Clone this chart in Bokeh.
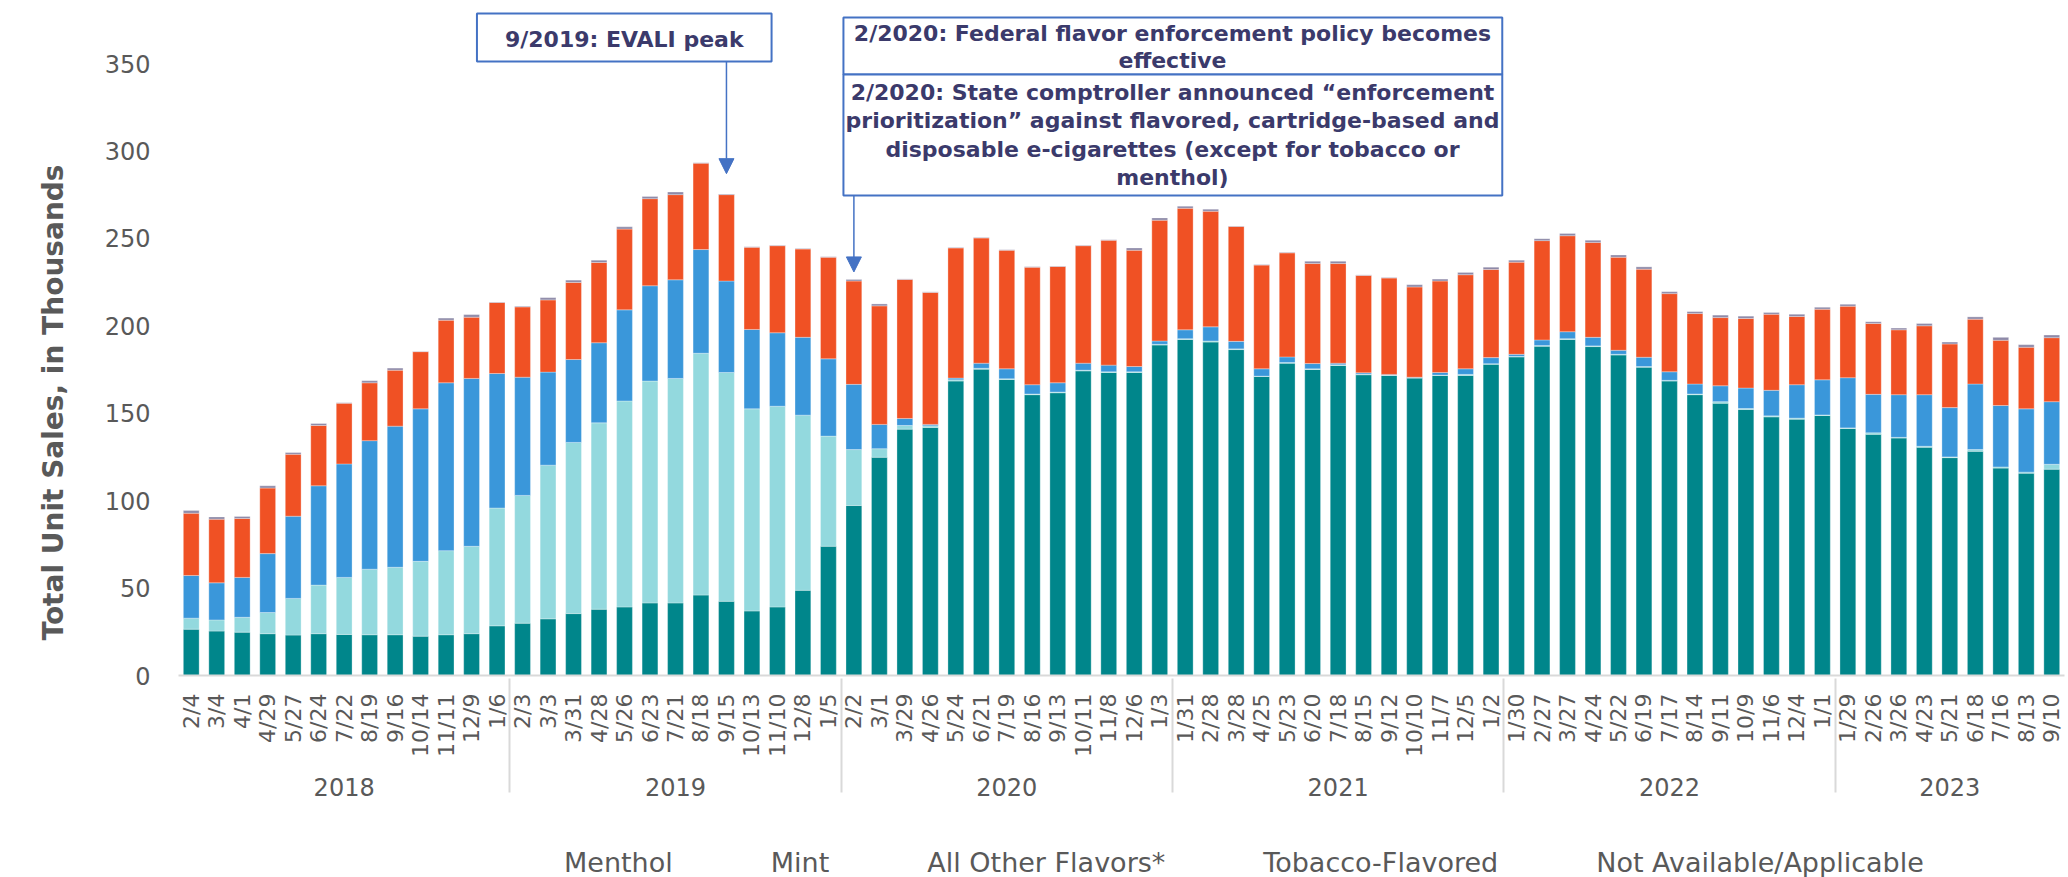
import math
from bokeh.plotting import figure
from bokeh.layouts import column
from bokeh.models import (ColumnDataSource, FactorRange, Range1d, FixedTicker, Legend,
                          LegendItem, BoxAnnotation, Label, Arrow, NormalHead, Title)
from bokeh.embed import file_html
from bokeh.resources import INLINE

# ---------------- data ----------------
years = ["2018", "2019", "2020", "2021", "2022", "2023"]
dates_2018 = ["2/4", "3/4", "4/1", "4/29", "5/27", "6/24", "7/22", "8/19", "9/16", "10/14", "11/11", "12/9", "1/6"]
dates_2019 = ["2/3", "3/3", "3/31", "4/28", "5/26", "6/23", "7/21", "8/18", "9/15", "10/13", "11/10", "12/8", "1/5"]
dates_2020 = ["2/2", "3/1", "3/29", "4/26", "5/24", "6/21", "7/19", "8/16", "9/13", "10/11", "11/8", "12/6", "1/3"]
dates_2021 = ["1/31", "2/28", "3/28", "4/25", "5/23", "6/20", "7/18", "8/15", "9/12", "10/10", "11/7", "12/5", "1/2"]
dates_2022 = ["1/30", "2/27", "3/27", "4/24", "5/22", "6/19", "7/17", "8/14", "9/11", "10/9", "11/6", "12/4", "1/1"]
dates_2023 = ["1/29", "2/26", "3/26", "4/23", "5/21", "6/18", "7/16", "8/13", "9/10"]

menthol = [26.5, 25.4, 24.8, 23.9, 23.1, 23.9, 23.5, 23.3, 23.3, 22.5, 23.3, 23.9, 28.4,
           29.9, 32.4, 35.4, 37.9, 39.2, 41.5, 41.5, 46.0, 42.4, 36.9, 39.2, 48.7, 73.9,
           97.2, 124.8, 140.9, 141.9, 168.4, 175.2, 169.3, 160.6, 161.7, 174.2, 173.3, 173.3, 189.0,
           192.2, 190.7, 186.4, 171.0, 178.6, 175.0, 177.3, 172.0, 171.6, 170.1, 171.6, 171.6, 178.0,
           182.2, 188.3, 192.2, 188.1, 183.3, 176.3, 168.4, 160.6, 155.7, 152.1, 147.9, 146.6, 148.7,
           141.3, 137.9, 135.8, 130.5, 124.6, 128.2, 118.6, 115.7, 118.0]
mint = [6.3, 6.4, 8.5, 12.1, 21.0, 27.8, 32.6, 37.5, 38.6, 42.8, 48.1, 50.0, 67.4,
        73.1, 87.9, 97.9, 106.6, 117.8, 126.9, 128.4, 138.3, 130.9, 115.6, 114.8, 100.2, 63.0,
        32.0, 4.9, 2.1, 0.9, 0.7, 0.5, 0.4, 0.4, 0.4, 0.4, 0.4, 0.4, 0.4,
        0.4, 0.6, 0.4, 0.2, 0.4, 0.4, 0.4, 0.3, 0.2, 0.2, 0.2, 0.6, 0.3,
        0.3, 0.4, 0.4, 0.4, 0.4, 0.4, 0.4, 0.4, 0.9, 0.6, 0.6, 0.6, 0.3,
        0.3, 0.9, 0.4, 0.6, 0.4, 1.0, 0.7, 0.6, 2.8]
other = [24.4, 21.2, 22.8, 33.7, 47.0, 56.8, 64.9, 73.5, 80.7, 87.2, 96.0, 96.0, 76.9,
         67.6, 53.2, 47.4, 45.8, 52.1, 54.5, 56.4, 59.3, 52.3, 45.4, 42.0, 44.5, 44.2,
         37.3, 13.9, 4.0, 0.8, 1.0, 2.9, 5.7, 5.3, 5.3, 4.0, 3.8, 3.0, 1.9,
         5.1, 8.1, 4.3, 4.2, 3.2, 3.0, 0.9, 0.8, 0.4, 0.3, 1.5, 3.2, 3.5,
         1.2, 3.2, 4.0, 4.9, 2.3, 5.3, 4.9, 5.7, 9.1, 11.7, 14.6, 19.1, 20.1,
         28.7, 22.0, 24.4, 29.5, 28.2, 37.5, 35.1, 36.2, 35.8]
tobacco = [35.6, 36.4, 33.7, 37.5, 35.4, 34.5, 34.7, 33.1, 32.0, 32.7, 35.8, 35.0, 40.6,
           40.2, 41.3, 44.1, 45.9, 46.2, 49.8, 48.7, 49.4, 49.4, 47.0, 49.8, 50.5, 58.1,
           59.1, 67.8, 79.5, 75.5, 74.4, 71.6, 67.8, 67.2, 66.5, 67.2, 71.4, 66.5, 69.1,
           69.5, 66.1, 65.7, 59.3, 59.5, 57.2, 57.0, 55.7, 55.1, 51.6, 52.3, 53.8, 50.4,
           52.7, 56.8, 54.9, 54.3, 53.2, 50.4, 44.7, 40.3, 39.0, 39.8, 43.5, 39.0, 40.4,
           40.9, 40.5, 37.1, 39.4, 36.4, 37.1, 37.3, 35.2, 36.6]
not_available = [1.5, 1.3, 1.1, 1.3, 1.0, 1.1, 0.3, 1.2, 1.2, 0.2, 1.2, 1.5, 0.3,
                 0.4, 1.3, 1.3, 1.3, 1.3, 1.2, 1.5, 0.3, 0.3, 0.3, 0.3, 0.3, 0.3,
                 0.9, 1.1, 0.3, 0.3, 0.3, 0.3, 0.3, 0.3, 0.3, 0.3, 0.3, 1.3, 1.3,
                 1.2, 1.2, 0.3, 0.3, 0.3, 1.3, 1.3, 0.3, 0.3, 1.3, 1.1, 1.3, 1.3,
                 1.1, 1.1, 1.3, 1.2, 1.3, 1.3, 1.1, 1.1, 1.4, 1.3, 1.0, 1.3, 1.1,
                 1.1, 1.0, 1.0, 1.3, 1.1, 1.3, 1.7, 1.5, 1.5]

series_names = ["Menthol", "Mint", "All Other Flavors*", "Tobacco-Flavored", "Not Available/Applicable"]
series_keys = ["menthol", "mint", "other", "tobacco", "na"]
series_colors = ["#00868B", "#93D9DE", "#3A97DA", "#F05124", "#8E8AA8"]
y_ticks = [0, 50, 100, 150, 200, 250, 300, 350]

# ---------------- build ----------------
date_groups = [dates_2018, dates_2019, dates_2020, dates_2021, dates_2022, dates_2023]
factors = [(yr, d) for yr, ds in zip(years, date_groups) for d in ds]

source = ColumnDataSource(data=dict(x=factors, menthol=menthol, mint=mint, other=other,
                                    tobacco=tobacco, na=not_available))

FONT = "DejaVu Sans"
GRAY = "#595959"
NAVY = "#3B3A6B"
BLUE = "#4472C4"

FRAME_H = 675
PX_PER_UNIT = 612.0 / 350.0

p = figure(x_range=FactorRange(*factors, factor_padding=0, group_padding=0, range_padding=0),
           y_range=Range1d(0, FRAME_H / PX_PER_UNIT),
           frame_width=1886, frame_height=FRAME_H, output_backend="svg", toolbar_location=None,
           min_border_left=178, min_border_right=2, min_border_top=0, min_border_bottom=0)

renderers = p.vbar_stack(series_keys, x="x", width=0.62, color=series_colors,
                         line_color="white", line_width=0.6, line_alpha=0.5, source=source)

p.xgrid.grid_line_color = None
p.ygrid.grid_line_color = None
p.outline_line_color = None

# y axis
p.yaxis.ticker = FixedTicker(ticks=y_ticks)
p.yaxis.axis_line_color = None
p.yaxis.major_tick_line_color = None
p.yaxis.minor_tick_line_color = None
p.yaxis.major_tick_out = 0
p.yaxis.major_tick_in = 0
p.yaxis.minor_tick_out = 0
p.yaxis.major_label_standoff = 28
p.yaxis.major_label_text_font = FONT
p.yaxis.major_label_text_font_size = "24px"
p.yaxis.major_label_text_color = GRAY

# y axis title as a side title (sits lower, as in the reference)
p.add_layout(Title(text="Total Unit Sales, in Thousands", align="left", offset=35,
                   standoff=64, text_font=FONT, text_font_size="28px",
                   text_font_style="bold", text_color=GRAY), "left")

# x axis
xa = p.xaxis[0]
xa.axis_line_color = "#D9D9D9"
xa.axis_line_width = 2
xa.major_tick_line_color = None
xa.minor_tick_line_color = None
xa.major_tick_out = 0
xa.major_tick_in = 0
xa.minor_tick_out = 0
xa.axis_label_standoff = 0
xa.major_label_orientation = math.pi / 2
xa.major_label_standoff = 18
xa.major_label_text_font = FONT
xa.major_label_text_font_size = "22px"
xa.major_label_text_color = GRAY
xa.group_text_font = FONT
xa.group_text_font_size = "24px"
xa.group_text_color = GRAY
xa.group_text_font_style = "normal"
xa.separator_line_color = "#D9D9D9"
xa.separator_line_width = 2

# ---------------- annotations ----------------
def idx(year, date):
    return factors.index((year, date)) + 0.5

def box(left, right, top, bottom):
    p.add_layout(BoxAnnotation(left=left, right=right, top=top, bottom=bottom,
                               fill_color="white", fill_alpha=1.0,
                               line_color=BLUE, line_width=2, line_alpha=1.0))

def label(x, y, text):
    p.add_layout(Label(x=x, y=y, text=text, text_align="center", text_baseline="middle",
                       text_font=FONT, text_font_size="22px", text_font_style="bold",
                       text_color=NAVY))

# EVALI peak
box(11.71, 23.27, 378.6, 351.1)
label(17.49, 364.0, "9/2019: EVALI peak")
x1 = idx("2019", "9/15")
p.add_layout(Arrow(end=NormalHead(size=15, fill_color=BLUE, line_color=BLUE),
                   x_start=x1, y_start=351.1, x_end=x1, y_end=287.0,
                   line_color=BLUE, line_width=1.5))

# Federal / state policy
box(26.09, 51.94, 376.3, 343.7)
label(39.0, 367.0, "2/2020: Federal flavor enforcement policy becomes")
label(39.0, 351.5, "effective")
box(26.09, 51.94, 343.7, 274.5)
label(39.0, 333.4, "2/2020: State comptroller announced \u201cenforcement")
label(39.0, 317.4, "prioritization\u201d against flavored, cartridge-based and")
label(39.0, 300.8, "disposable e-cigarettes (except for tobacco or")
label(39.0, 284.8, "menthol)")
x2 = idx("2020", "2/2")
p.add_layout(Arrow(end=NormalHead(size=15, fill_color=BLUE, line_color=BLUE),
                   x_start=x2, y_start=274.5, x_end=x2, y_end=230.8,
                   line_color=BLUE, line_width=1.5))

# ---------------- legend strip (separate small figure under the chart) ----------------
lg = figure(width=2066, height=84, output_backend="svg", toolbar_location=None,
            x_range=Range1d(0, 1), y_range=Range1d(0, 1),
            min_border_left=0, min_border_right=0, min_border_top=0, min_border_bottom=0)
lg.axis.visible = False
lg.grid.visible = False
lg.outline_line_color = None
lg.background_fill_alpha = 0
lg.border_fill_alpha = 0
legend_renderers = [lg.vbar(x=[], top=[], width=0.5, fill_color=c, line_color=c)
                    for c in series_colors]
items = [LegendItem(label=n, renderers=[r]) for n, r in zip(series_names, legend_renderers)]
legend = Legend(items=items, orientation="horizontal", location=(360, 4),
                label_text_font=FONT, label_text_font_size="27px", label_text_color=GRAY,
                glyph_width=20, glyph_height=20, spacing=72, label_standoff=6,
                border_line_color=None, background_fill_alpha=0, margin=0, padding=0)
lg.add_layout(legend, "center")

layout = column(p, lg, spacing=0)
open("out.html", "w").write(file_html(layout, INLINE))
